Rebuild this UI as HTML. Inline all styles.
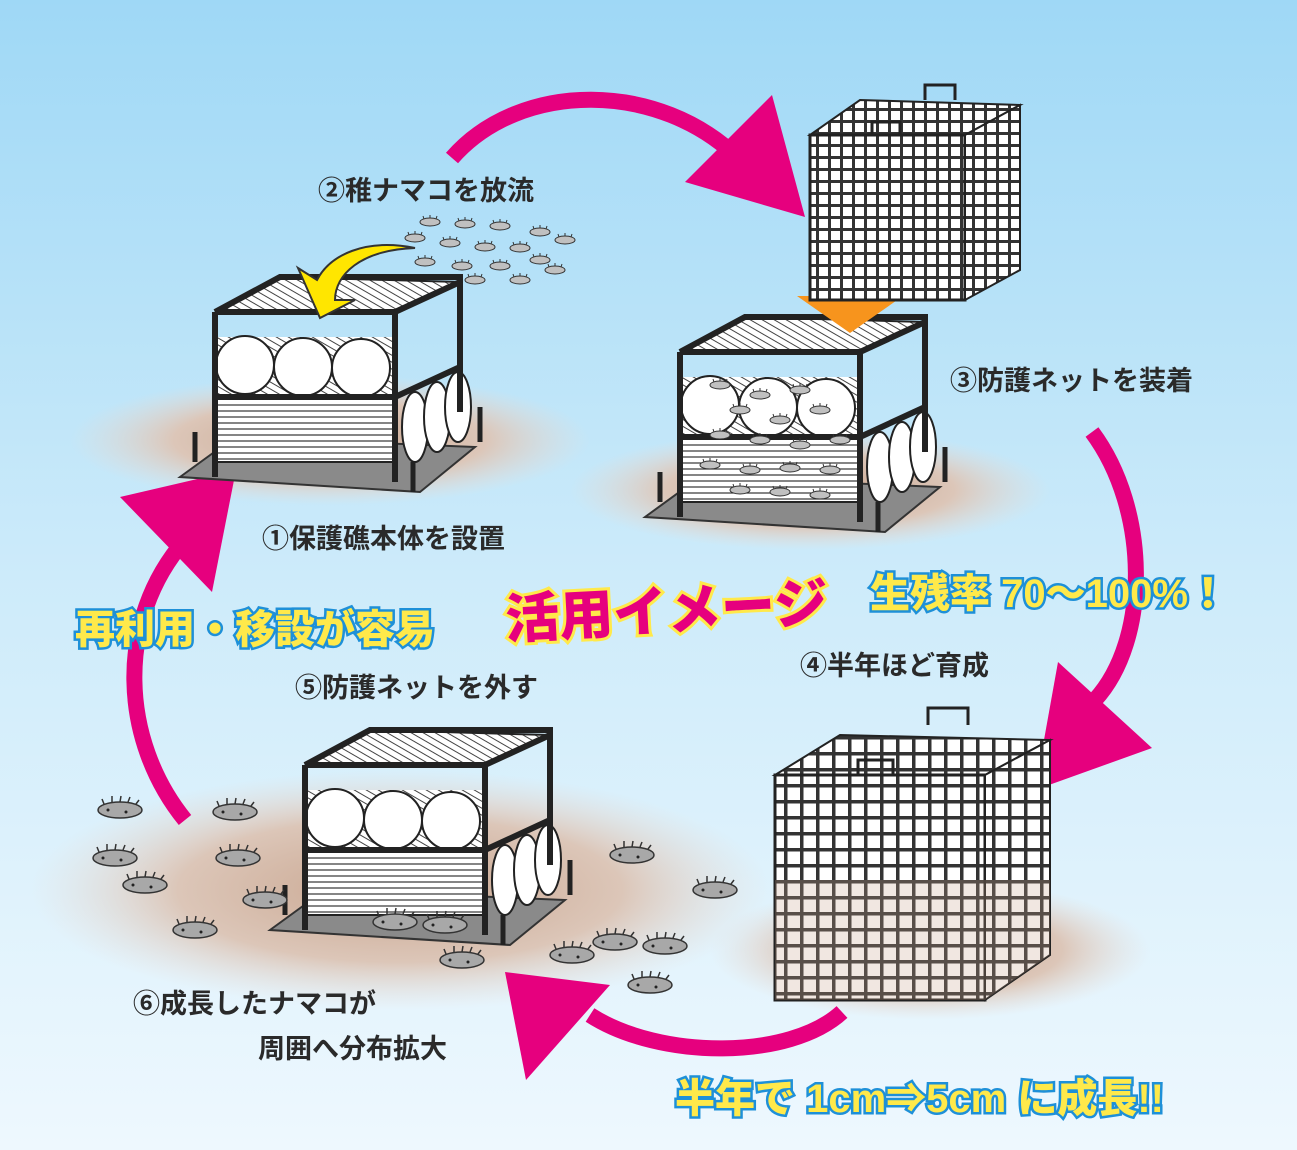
<!DOCTYPE html>
<html><head><meta charset="utf-8">
<style>
html,body{margin:0;padding:0;}
body{width:1297px;height:1150px;overflow:hidden;}
svg{display:block;}
.lbl{font-family:"Liberation Sans","Noto Sans CJK JP",sans-serif;font-size:27px;font-weight:bold;fill:#2a2a2a;}
.yel{font-family:"Liberation Sans","Noto Sans CJK JP",sans-serif;font-weight:900;fill:#ffe94a;stroke:#1e90d8;stroke-width:5;paint-order:stroke;}
.mag{font-family:"Liberation Sans","Noto Sans CJK JP",sans-serif;font-weight:900;fill:#e6007e;stroke:#ffe94a;stroke-width:6;paint-order:stroke;}
</style></head>
<body>
<svg width="1297" height="1150" viewBox="0 0 1297 1150" xmlns="http://www.w3.org/2000/svg">
<defs>
<linearGradient id="bg" x1="0" y1="0" x2="0" y2="1">
<stop offset="0" stop-color="#9fd8f6"/><stop offset="0.5" stop-color="#cdebfa"/><stop offset="1" stop-color="#eef8fe"/>
</linearGradient>
<radialGradient id="gr">
<stop offset="0" stop-color="#c9a690"/><stop offset="0.6" stop-color="#dcc6b8"/><stop offset="1" stop-color="#e6dcd6" stop-opacity="0"/>
</radialGradient>
<pattern id="hl" width="6" height="6" patternUnits="userSpaceOnUse"><rect width="6" height="6" fill="#fff"/><line x1="0" y1="3" x2="6" y2="3" stroke="#333" stroke-width="1.2"/></pattern>
<pattern id="dl" width="6" height="6" patternUnits="userSpaceOnUse" patternTransform="rotate(30)"><rect width="6" height="6" fill="#fff"/><line x1="0" y1="3" x2="6" y2="3" stroke="#444" stroke-width="1"/></pattern>
<pattern id="grid" width="12" height="12" patternUnits="userSpaceOnUse"><rect width="12" height="12" fill="#333"/><rect x="3" y="3" width="9" height="9" fill="#fff"/></pattern>
<pattern id="grid2" width="16" height="16" patternUnits="userSpaceOnUse"><rect width="16" height="16" fill="#333"/><rect x="3.5" y="3.5" width="12.5" height="12.5" fill="#fff"/></pattern>
<g id="reef">
<polygon points="-35,165 20,125 260,135 205,180" fill="#8a8a8a" stroke="#333" stroke-width="2"/>
<rect x="0" y="85" width="180" height="65" fill="url(#hl)" stroke="#222" stroke-width="2"/>
<polygon points="0,0 65,-35 245,-30 180,0" fill="url(#dl)" stroke="#222" stroke-width="2"/>
<rect x="0" y="25" width="180" height="60" fill="url(#dl)"/>
<circle cx="30" cy="53" r="29" fill="#fff" stroke="#222" stroke-width="2"/>
<circle cx="88" cy="55" r="29" fill="#fff" stroke="#222" stroke-width="2"/>
<circle cx="146" cy="56" r="29" fill="#fff" stroke="#222" stroke-width="2"/>
<ellipse cx="200" cy="115" rx="13" ry="35" fill="#fff" stroke="#222" stroke-width="2"/>
<ellipse cx="222" cy="105" rx="13" ry="35" fill="#fff" stroke="#222" stroke-width="2"/>
<ellipse cx="243" cy="95" rx="13" ry="35" fill="#fff" stroke="#222" stroke-width="2"/>
<path d="M0,0 H180 L245,-30 M0,0 L65,-35 H245 V100 M0,0 V165 M180,0 V170 M0,85 H180 L245,55" fill="none" stroke="#222" stroke-width="6"/>
<line x1="-20" y1="120" x2="-20" y2="150" stroke="#222" stroke-width="5"/>
<line x1="198" y1="150" x2="198" y2="180" stroke="#222" stroke-width="5"/>
<line x1="265" y1="95" x2="265" y2="130" stroke="#222" stroke-width="5"/>
</g>
<g id="sc"><ellipse cx="0" cy="0" rx="22" ry="8" fill="#a8a8a8" stroke="#333" stroke-width="1.5"/><path d="M-16,-6 l-2,-5 M-8,-8 l0,-6 M0,-8 l1,-6 M8,-8 l2,-5 M16,-6 l3,-4" stroke="#333" stroke-width="1.5"/><circle cx="-12" cy="0" r="1.5" fill="#222"/><circle cx="6" cy="2" r="1.5" fill="#222"/></g>
<g id="ss"><ellipse cx="0" cy="0" rx="10" ry="4" fill="#c0c0c0" stroke="#333" stroke-width="1"/><path d="M-6,-3 l-1,-3 M0,-4 l0,-3 M6,-3 l1,-3" stroke="#333"/></g>
</defs>
<rect width="1297" height="1150" fill="url(#bg)"/>
<ellipse cx="330" cy="440" rx="260" ry="65" fill="url(#gr)"/>
<ellipse cx="810" cy="490" rx="240" ry="60" fill="url(#gr)"/>
<ellipse cx="400" cy="890" rx="370" ry="120" fill="url(#gr)"/>
<ellipse cx="930" cy="950" rx="220" ry="70" fill="url(#gr)"/>

<g fill="none" stroke="#e6007e" stroke-width="16">
<path d="M452,158 C520,80 660,80 740,160"/>
<path d="M1092,432 C1150,510 1150,640 1095,700"/>
<path d="M842,1012 C790,1060 660,1060 590,1015"/>
<path d="M185,820 C120,740 115,620 185,540"/>
</g>
<g fill="#e6007e">
<polygon points="685,182 772,95 805,217"/>
<polygon points="1058,662 1152,748 1035,790"/>
<polygon points="610,985 505,972 526,1080"/>
<polygon points="120,497 236,470 212,592"/>
</g>

<use href="#reef" x="215" y="312"/>
<use href="#reef" x="680" y="352"/>
<use href="#reef" x="305" y="765"/>

<path d="M415,248 C360,250 335,275 335,300 L355,300 L320,318 L298,268 L317,280 C330,255 365,238 415,248 Z" fill="#ffe600" stroke="#333" stroke-width="2"/>
<polygon points="825,273 875,273 875,296 903,296 850,333 797,296 825,296" fill="#f7941d"/>

<polygon points="810,135 860,100 1020,105 965,135" fill="url(#grid)" stroke="#222" stroke-width="2"/>
<rect x="810" y="135" width="155" height="165" fill="url(#grid)" stroke="#222" stroke-width="3"/>
<polygon points="965,135 1020,105 1020,270 965,300" fill="url(#grid)" stroke="#222" stroke-width="2"/>
<path d="M925,100 V85 H955 V100" fill="none" stroke="#222" stroke-width="3"/>
<path d="M872,135 V122 H900 V135" fill="none" stroke="#222" stroke-width="3"/>

<polygon points="775,775 840,735 1050,740 985,775" fill="url(#grid2)" stroke="#222" stroke-width="2"/>
<rect x="775" y="775" width="210" height="225" fill="url(#grid2)" stroke="#222" stroke-width="3"/>
<polygon points="985,775 1050,740 1050,955 985,1000" fill="url(#grid2)" stroke="#222" stroke-width="2"/>
<polygon points="775,880 1050,880 1050,955 985,1000 775,1000" fill="#c8a088" opacity="0.25"/>
<path d="M928,725 V708 H968 V725" fill="none" stroke="#222" stroke-width="3"/>
<path d="M858,775 V760 H893 V775" fill="none" stroke="#222" stroke-width="3"/>

<g>
<use href="#ss" x="430" y="222"/><use href="#ss" x="465" y="224"/><use href="#ss" x="500" y="226"/><use href="#ss" x="540" y="232"/><use href="#ss" x="565" y="240"/>
<use href="#ss" x="415" y="238"/><use href="#ss" x="450" y="243"/><use href="#ss" x="485" y="247"/><use href="#ss" x="520" y="248"/>
<use href="#ss" x="425" y="262"/><use href="#ss" x="462" y="266"/><use href="#ss" x="500" y="266"/><use href="#ss" x="540" y="260"/><use href="#ss" x="555" y="270"/>
<use href="#ss" x="475" y="280"/><use href="#ss" x="520" y="280"/>
<use href="#ss" x="720" y="385"/><use href="#ss" x="760" y="395"/><use href="#ss" x="800" y="390"/><use href="#ss" x="740" y="410"/><use href="#ss" x="780" y="420"/><use href="#ss" x="820" y="410"/>
<use href="#ss" x="720" y="435"/><use href="#ss" x="760" y="440"/><use href="#ss" x="800" y="445"/><use href="#ss" x="840" y="440"/>
<use href="#ss" x="710" y="465"/><use href="#ss" x="750" y="470"/><use href="#ss" x="790" y="468"/><use href="#ss" x="830" y="470"/>
<use href="#ss" x="740" y="490"/><use href="#ss" x="780" y="492"/><use href="#ss" x="820" y="495"/>
</g>
<g>
<use href="#sc" x="120" y="810"/><use href="#sc" x="235" y="812"/><use href="#sc" x="115" y="858"/><use href="#sc" x="238" y="858"/>
<use href="#sc" x="145" y="885"/><use href="#sc" x="265" y="900"/><use href="#sc" x="195" y="930"/><use href="#sc" x="395" y="922"/>
<use href="#sc" x="445" y="925"/><use href="#sc" x="462" y="960"/><use href="#sc" x="572" y="955"/><use href="#sc" x="615" y="942"/>
<use href="#sc" x="665" y="946"/><use href="#sc" x="632" y="855"/><use href="#sc" x="715" y="890"/><use href="#sc" x="650" y="985"/>
</g>

<text class="lbl" x="318" y="200">②稚ナマコを放流</text>
<text class="lbl" x="950" y="390">③防護ネットを装着</text>
<text class="lbl" x="262" y="548">①保護礁本体を設置</text>
<text class="lbl" x="800" y="675">④半年ほど育成</text>
<text class="lbl" x="295" y="697">⑤防護ネットを外す</text>
<text class="lbl" x="133" y="1013">⑥成長したナマコが</text>
<text class="lbl" x="258" y="1058">周囲へ分布拡大</text>
<text class="yel" x="870" y="607" font-size="40">生残率 70～100%！</text>
<text class="yel" x="75" y="643" font-size="40">再利用・移設が容易</text>
<text class="yel" x="675" y="1112" font-size="40">半年で 1cm⇒5cm に成長!!</text>
<text class="mag" x="505" y="630" font-size="54" transform="rotate(-3 665 610)">活用イメージ</text>
</svg>
</body></html>
